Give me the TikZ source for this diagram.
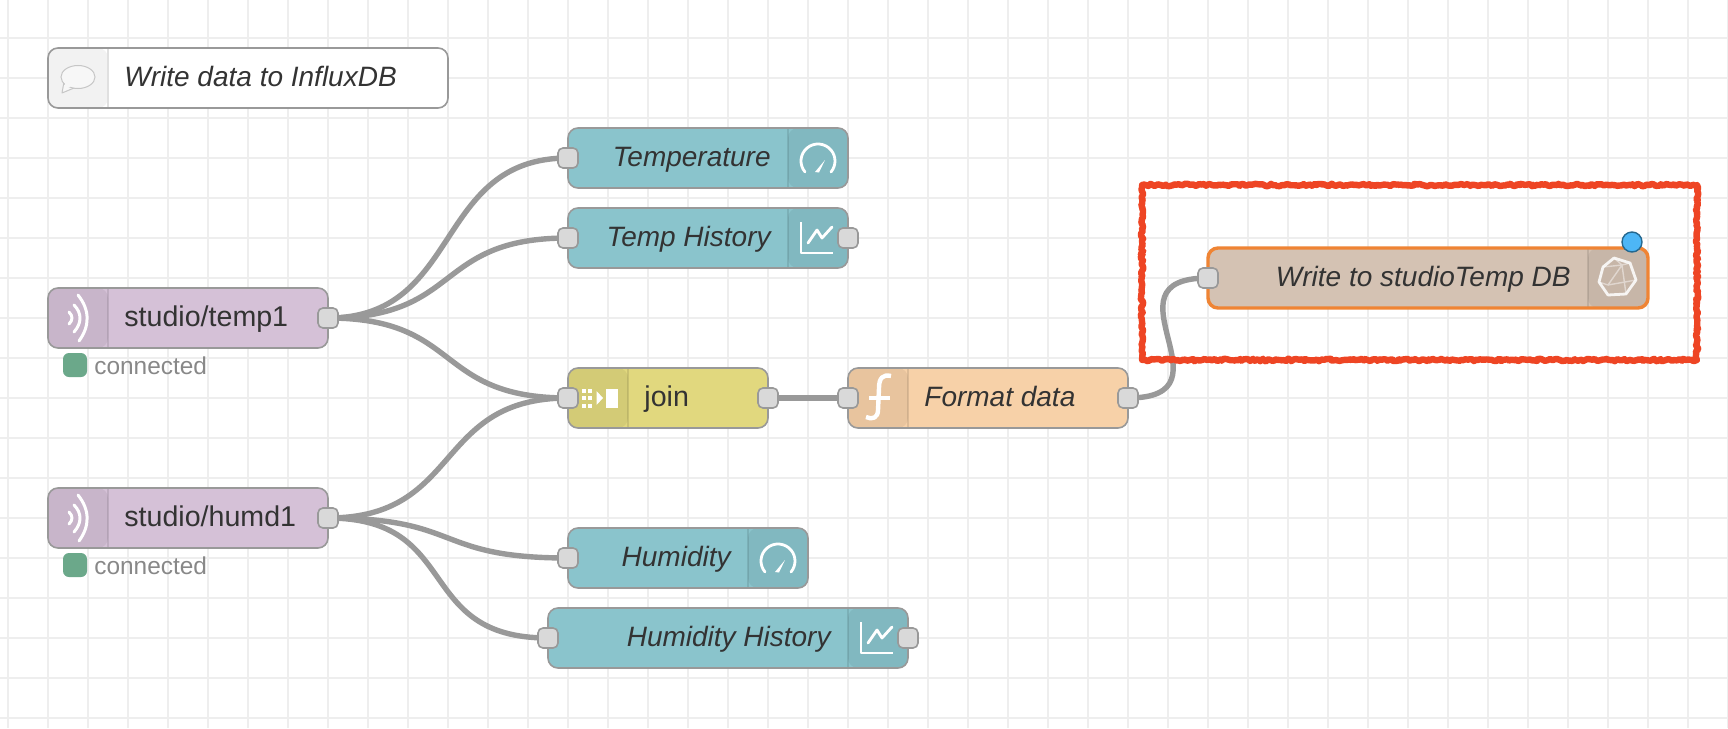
\documentclass[tikz,border=0pt]{standalone}
\usepackage{fontspec}
\setmainfont{Liberation Sans}
\usepackage{xcolor}
\usepackage{tikz}
\usetikzlibrary{
	calc,
	backgrounds,
	decorations.pathmorphing
}
\definecolor{GridGray}{HTML}{EEEEEE}
\definecolor{EdgeGray}{HTML}{999999}
\definecolor{PortGray}{HTML}{D9D9D9}
\definecolor{TextDark}{HTML}{333333}
\definecolor{StatusText}{HTML}{888888}
\definecolor{MqttPurple}{HTML}{D5C1D7}
\definecolor{DashTeal}{HTML}{8AC4CC}
\definecolor{JoinYellow}{HTML}{E1D87E}
\definecolor{FuncPeach}{HTML}{F7D1A8}
\definecolor{InfluxTan}{HTML}{D4C2B3}
\definecolor{SelectOrange}{HTML}{EF8434}
\definecolor{ChangeBlue}{HTML}{4DB6F6}
\definecolor{ChangeEdge}{HTML}{25688F}
\definecolor{StatusGreen}{HTML}{6BA88A}
\definecolor{MarkRed}{HTML}{EE4524}
\tikzset{
	gridline/.style={GridGray, line width=1pt},
	wire/.style={EdgeGray, line width=2.7pt},
	flowto/.style={to path={.. controls +(#1,0) and +(-#1,0) .. (\tikztotarget)}},
	flowto/.default=135,
	flownode/.style={draw=EdgeGray, line width=0.8pt, rounded corners=5pt, minimum height=30pt,
		inner sep=0pt, outer sep=0pt, anchor=north west},
	lefttab/.style={path picture={
			\fill[black, opacity=0.06] (path picture bounding box.south west) rectangle ([xshift=30pt]path picture bounding box.north west);
			\draw[black, opacity=0.1, line width=0.8pt] ([xshift=30pt]path picture bounding box.south west) -- ([xshift=30pt]path picture bounding box.north west);
	}},
	righttab/.style={path picture={
			\fill[black, opacity=0.06] (path picture bounding box.south east) rectangle ([xshift=-30pt]path picture bounding box.north east);
			\draw[black, opacity=0.1, line width=0.8pt] ([xshift=-30pt]path picture bounding box.south east) -- ([xshift=-30pt]path picture bounding box.north east);
	}},
	port/.style={draw=EdgeGray, fill=PortGray, line width=0.8pt, rounded corners=2.5pt, minimum size=10pt,
		inner sep=0pt, outer sep=0pt},
	plainlabel/.style={TextDark, inner sep=0pt, yshift=-1.7pt, font=\fontsize{14.3}{17}\selectfont},
	itlabel/.style={TextDark, inner sep=0pt, yshift=-1.7pt, font=\fontsize{14}{17}\selectfont\itshape},
	statusdot/.style={fill=StatusGreen, rounded corners=3pt, minimum size=12pt, inner sep=0pt},
	statuslabel/.style={StatusText, inner sep=0pt, yshift=-2pt, anchor=mid west, font=\fontsize{12.2}{15}\selectfont},
	iconline/.style={white, line width=1.4pt, line cap=round, line join=round},
	redmark/.style={MarkRed, line width=3.2pt, line join=round, decorate, decoration={random steps, segment length=1pt, amplitude=0.6pt}},
	bubbleicon/.pic={
		\draw[gray!45, fill=black!3, line width=0.5pt, line join=round] (-14,5) -- (-16,16) -- (-4,11);
		\draw[gray!45, fill=black!3, line width=0.5pt] (0,0) ellipse [x radius=17, y radius=11.5];
		\fill[black!3] (-13,3) -- (-13,12) -- (-4,8) -- cycle;
	},
	signalicon/.pic={
		\draw[iconline, line width=1.5pt] (2,-23) .. controls (14,-8) and (14,8) .. (3,23);
		\draw[iconline, line width=1.5pt] (-2,-13) .. controls (6,-5) and (6,5) .. (-2,14);
		\draw[iconline, line width=1.5pt] (-7,-6) .. controls (-3,-2) and (-3,2) .. (-7,6);
	},
	gaugeicon/.pic={
		\draw[iconline] (0,3) ++(140:17) arc[start angle=140, end angle=400, radius=17];
		\fill[white] (-3,14) -- (7,2) -- (1,14.5) -- cycle;
	},
	charticon/.pic={
		\draw[iconline, line width=1pt, line cap=butt] (-17,-16) -- (-17,15) -- (15,15);
		\draw[iconline] (-10,5) -- (-1,-8) -- (4,0) -- (14,-11);
	},
	joinicon/.pic={
		\foreach \dx in {-34,-28}
			\foreach \dy in {-7.5,0,7.5}
				\fill[white] (\dx-2,\dy-2) rectangle +(4,4);
		\fill[white] (-21.5,-7) -- (-15,0) -- (-21.5,7) -- cycle;
		\fill[white] (-12,-9.5) rectangle (0,9.5);
	},
	funcicon/.pic={
		\draw[iconline, line width=2.2pt, line cap=butt] (13,-22) .. controls (5,-24) and (1,-20) .. (1,-10) -- (0,12) .. controls (0,20) and (-6,22) .. (-12,19);
		\draw[iconline, line width=1.6pt, line cap=butt] (-9,0) -- (12,0);
	},
	dbicon/.pic={
		\draw[white, opacity=0.85, line width=1.4pt, line join=round] (-3,-19) -- (13,-14) -- (19,3) -- (9,17) -- (-9,18) -- (-18,5) -- (-14,-10) -- cycle;
		\draw[white, opacity=0.45, line width=0.7pt] (-14,-10) -- (5,-12) -- (13,-14) (5,-12) -- (9,17) (5,-12) -- (-9,8) -- (-18,5) (-9,8) -- (19,3) (-3,-19) -- (5,-12);
	}
}
\begin{document}
\begin{tikzpicture}[x=0.5pt, y=-0.5pt]
	\useasboundingbox (0,0) rectangle (1728,728);

	% flow nodes
	\node[flownode, draw=EdgeGray, fill=white, minimum width=200pt, path picture={
		\fill[black!5] (path picture bounding box.south west) rectangle ([xshift=30pt]path picture bounding box.north west);
		\draw[black!12, line width=0.8pt] ([xshift=30pt]path picture bounding box.south west) -- ([xshift=30pt]path picture bounding box.north west);
	}] (note) at (48,48) {};
	\node[flownode, fill=MqttPurple, lefttab, minimum width=140pt] (temp1) at (48,288) {};
	\node[flownode, fill=MqttPurple, lefttab, minimum width=140pt] (humd1) at (48,488) {};
	\node[flownode, fill=DashTeal, righttab, minimum width=140pt] (tgauge) at (568,128) {};
	\node[flownode, fill=DashTeal, righttab, minimum width=140pt] (tchart) at (568,208) {};
	\node[flownode, fill=JoinYellow, lefttab, minimum width=100pt] (join) at (568,368) {};
	\node[flownode, fill=FuncPeach, lefttab, minimum width=140pt] (format) at (848,368) {};
	\node[flownode, fill=DashTeal, righttab, minimum width=120pt] (hgauge) at (568,528) {};
	\node[flownode, fill=DashTeal, righttab, minimum width=180pt] (hchart) at (548,608) {};
	\node[flownode, draw=SelectOrange, line width=1.7pt, fill=InfluxTan, righttab, minimum width=220pt] (influx) at (1208,248) {};

	% labels
	\node[itlabel, anchor=mid west] (notetext) at ([xshift=38pt]note.west) {Write data to InfluxDB};
	\node[plainlabel, anchor=mid west] (temp1text) at ([xshift=38pt]temp1.west) {studio/temp1};
	\node[plainlabel, anchor=mid west] (humd1text) at ([xshift=38pt]humd1.west) {studio/humd1};
	\node[plainlabel, anchor=mid west] (jointext) at ([xshift=38pt]join.west) {join};
	\node[itlabel, anchor=mid west] (formattext) at ([xshift=38pt]format.west) {Format data};
	\node[itlabel, anchor=mid east] (tgaugetext) at ([xshift=-38.5pt]tgauge.east) {Temperature};
	\node[itlabel, anchor=mid east] (tcharttext) at ([xshift=-38.5pt]tchart.east) {Temp History};
	\node[itlabel, anchor=mid east] (hgaugetext) at ([xshift=-38.5pt]hgauge.east) {Humidity};
	\node[itlabel, anchor=mid east] (hcharttext) at ([xshift=-38.5pt]hchart.east) {Humidity History};
	\node[itlabel, anchor=mid east] (influxtext) at ([xshift=-38.5pt]influx.east) {Write to studioTemp DB};

	% status
	\node[statusdot] (temp1dot) at (75,365) {};
	\node[statuslabel] (temp1state) at (94,365) {connected};
	\node[statusdot] (humd1dot) at (75,565) {};
	\node[statuslabel] (humd1state) at (94,565) {connected};

	% ports
	\node[port] (temp1out) at (temp1.east) {};
	\node[port] (humd1out) at (humd1.east) {};
	\node[port] (tgaugein) at (tgauge.west) {};
	\node[port] (tchartin) at (tchart.west) {};
	\node[port] (tchartout) at (tchart.east) {};
	\node[port] (joinin) at (join.west) {};
	\node[port] (joinout) at (join.east) {};
	\node[port] (formatin) at (format.west) {};
	\node[port] (formatout) at (format.east) {};
	\node[port] (hgaugein) at (hgauge.west) {};
	\node[port] (hchartin) at (hchart.west) {};
	\node[port] (hchartout) at (hchart.east) {};
	\node[port] (influxin) at (influx.west) {};

	% changed marker
	\node[circle, draw=ChangeEdge, fill=ChangeBlue, line width=0.7pt, minimum size=10pt, inner sep=0pt] (changed) at (1632,242) {};

	% icons
	\pic at (78,77) {bubbleicon};
	\pic at (76,318) {signalicon};
	\pic at (76,518) {signalicon};
	\pic at (818,158) {gaugeicon};
	\pic at (818,238) {charticon};
	\pic at (778,558) {gaugeicon};
	\pic at (878,638) {charticon};
	\pic at (618,398) {joinicon};
	\pic at (878,398) {funcicon};
	\pic at (1617,277) {dbicon};

	\begin{scope}[on background layer]
		\fill[white] (0,0) rectangle (1728,728);
		\foreach \gx in {8,48,...,1728}
			\draw[gridline] (\gx,0) -- (\gx,728);
		\foreach \gy in {38,78,...,728}
			\draw[gridline] (0,\gy) -- (1728,\gy);
		\draw[wire] (temp1out.center) to[flowto] (tgaugein.center);
		\draw[wire] (temp1out.center) to[flowto] (tchartin.center);
		\draw[wire] (temp1out.center) to[flowto] (joinin.center);
		\draw[wire] (humd1out.center) to[flowto] (joinin.center);
		\draw[wire] (humd1out.center) to[flowto] (hgaugein.center);
		\draw[wire] (humd1out.center) to[flowto] (hchartin.center);
		\draw[wire] (joinout.center) -- (formatin.center);
		\draw[wire] (formatout.center) to[flowto=110] (influxin.center);
	\end{scope}

	\pgfmathsetseed{7}
	\draw[redmark] (1142,185) rectangle (1697,360);
\end{tikzpicture}
\end{document}
